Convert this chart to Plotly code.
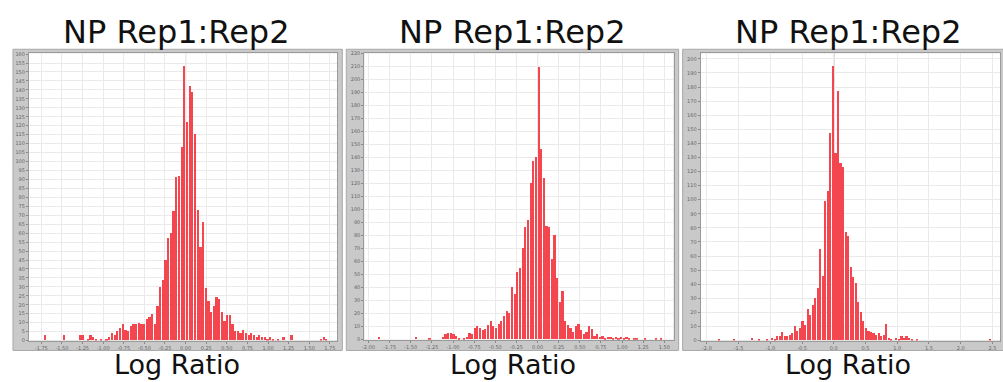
import plotly.graph_objects as go

# ---------------- data ----------------
title_text = "NP Rep1:Rep2"
xlabel_text = "Log Ratio"

# Panel 1: histogram of log ratios (bin width, index of first bin, counts)
p1_bin_width = 0.0325
p1_first_bin = -56
p1_counts = [0, 0, 0, 3, 0, 0, 0, 0, 0, 0, 3, 0, 0, 0, 0, 0,
             3, 3, 0, 1, 3, 2, 1, 0, 1, 0, 1, 2, 4, 3, 5, 7, 9, 6, 5, 8, 9, 9, 10, 9, 9,
             12, 13, 15, 9, 19, 30, 34, 45, 57, 60, 72, 91, 92, 108, 153,
             122, 142, 139, 115, 73, 52, 66, 29, 22, 16, 19, 24, 23, 16, 11,
             14, 14, 9, 5, 5, 4, 6, 4, 3, 4, 3, 2, 3, 2, 2, 1, 2, 1, 0, 1,
             0, 2, 0, 0, 3, 0, 0, 0, 0, 0, 0, 0, 0, 0, 0, 1, 2, 1, 0, 0, 0]
p1_xticks = [-1.75, -1.5, -1.25, -1.0, -0.75, -0.5, -0.25, 0.0, 0.25, 0.5, 0.75, 1.0, 1.25, 1.5, 1.75]
p1_yticks = list(range(0, 161, 5))

# Panel 2
p2_bin_width = 0.0315
p2_first_bin = -65
p2_counts = [0, 0, 0, 0, 0, 2, 0, 0, 0, 0, 0, 0, 0, 0, 0, 0, 0, 0, 0,
             2, 0, 0, 0, 0, 1, 0, 0, 0, 0,
             2, 4, 5, 5, 4, 3, 1, 0, 1, 2, 5, 4, 9, 10, 9, 7, 8, 11, 14, 10, 9, 12, 14,
             18, 22, 20, 40, 35, 52, 55, 70, 86, 92, 120, 137, 140,
             209, 146, 124, 87, 86, 62, 80, 47, 29, 37, 14, 11, 9, 6, 10, 12, 7, 4, 6,
             10, 8, 3, 4, 2, 3, 1, 2, 2, 1, 2, 1, 2, 1, 2, 1, 0, 1, 1, 0, 0, 1,
             0, 0, 0, 1, 0, 1, 0, 0, 0, 0]
p2_xticks = [-2.0, -1.75, -1.5, -1.25, -1.0, -0.75, -0.5, -0.25, 0.0, 0.25, 0.5, 0.75, 1.0, 1.25, 1.5]
p2_yticks = list(range(0, 221, 10))

# Panel 3
p3_bin_width = 0.04
p3_first_bin = -53
p3_counts = [0, 0, 0, 0, 0, 0, 0, 1, 0, 0, 0, 0, 0, 1, 0, 0, 0, 0, 0, 0,
             2, 0, 0, 1, 0, 0, 1, 0, 2, 1, 3, 3, 6, 3, 3, 4, 5, 10, 7, 9, 14, 11,
             22, 18, 25, 30, 37, 65, 46, 99, 106, 147, 195,
             133, 177, 126, 123, 77, 74, 52, 45, 41, 27, 20, 14, 9, 7, 6, 5, 4, 5,
             3, 4, 12, 2, 1, 0, 2, 1, 3, 2, 3, 2, 1, 0, 1,
             0, 0, 0, 0, 0, 0, 0, 0, 0, 0, 0, 0, 0, 0, 0, 0, 0, 0, 0, 0, 0, 0, 0, 0,
             0, 0, 0, 0, 1, 0, 0, 0]
p3_xticks = [-2.0, -1.5, -1.0, -0.5, 0.0, 0.5, 1.0, 1.5, 2.0, 2.5]
p3_yticks = list(range(0, 201, 10))

# ---------------- layout helpers ----------------
W, H = 1003, 382
BAR_COLOR = "#f4464f"
GRID = "#eaeaea"
TICKFONT = dict(family="DejaVu Sans", size=5, color="#666666")


def px_x(p):
    return p / W


def px_y(p):
    return 1 - p / H


panels = [
    dict(counts=p1_counts, w=p1_bin_width, k0=p1_first_bin, xticks=p1_xticks, yticks=p1_yticks,
         xfmt="{:.2f}", xrange=[-1.9, 1.84], yrange=[0, 160.5],
         plot=(27, 336, 51, 343), frame=(11, 341, 47, 353), cx=175),
    dict(counts=p2_counts, w=p2_bin_width, k0=p2_first_bin, xticks=p2_xticks, yticks=p2_yticks,
         xfmt="{:.2f}", xrange=[-2.05, 1.61], yrange=[0, 220],
         plot=(363, 673, 51, 342), frame=(345, 678, 47, 353), cx=512),
    dict(counts=p3_counts, w=p3_bin_width, k0=p3_first_bin, xticks=p3_xticks, yticks=p3_yticks,
         xfmt="{:.1f}", xrange=[-2.1, 2.62], yrange=[0, 204],
         plot=(700, 1000, 51, 343), frame=(682, 1006, 47, 353), cx=848),
]

fig = go.Figure()
shapes = []
annotations = []
layout_axes = {}

for i, p in enumerate(panels, start=1):
    xa = "x" if i == 1 else f"x{i}"
    ya = "y" if i == 1 else f"y{i}"
    centers = [(p["k0"] + j + 0.5) * p["w"] for j in range(len(p["counts"]))]
    fig.add_trace(go.Bar(
        x=centers, y=p["counts"], width=p["w"] * 0.84,
        marker=dict(color=BAR_COLOR, line=dict(width=0)),
        xaxis=xa, yaxis=ya, showlegend=False, hoverinfo="x+y",
    ))
    x0, x1, y0, y1 = p["plot"]
    fx0, fx1, fy0, fy1 = p["frame"]
    shapes.append(dict(type="rect", xref="paper", yref="paper", layer="below",
                       x0=px_x(fx0), x1=px_x(fx1), y0=px_y(fy1), y1=px_y(fy0),
                       fillcolor="#c9c9c9", line=dict(color="#a9a9a9", width=1)))
    shapes.append(dict(type="rect", xref="paper", yref="paper", layer="below",
                       x0=px_x(x0), x1=px_x(x1), y0=px_y(y1), y1=px_y(y0),
                       fillcolor="white", line=dict(width=0)))
    shapes.append(dict(type="line", xref=xa, yref=f"{ya} domain", layer="below",
                       x0=0, x1=0, y0=0, y1=1, line=dict(color="#9a9a9a", width=1)))
    xkey = "xaxis" if i == 1 else f"xaxis{i}"
    ykey = "yaxis" if i == 1 else f"yaxis{i}"
    layout_axes[xkey] = dict(
        domain=[px_x(x0), px_x(x1)], range=p["xrange"], anchor=ya,
        tickvals=p["xticks"], ticktext=[p["xfmt"].format(v) for v in p["xticks"]],
        showgrid=True, gridcolor=GRID, gridwidth=1, zeroline=False,
        showline=True, linecolor="#9a9a9a", mirror=True,
        ticks="outside", ticklen=2, tickcolor="#888888", tickfont=TICKFONT,
        fixedrange=True,
    )
    layout_axes[ykey] = dict(
        domain=[px_y(y1), px_y(y0)], range=p["yrange"], anchor=xa,
        tickvals=p["yticks"], showgrid=True, gridcolor=GRID, gridwidth=1, zeroline=False,
        showline=True, linecolor="#9a9a9a", mirror=True,
        ticks="outside", ticklen=2, tickcolor="#888888", tickfont=TICKFONT,
        fixedrange=True,
    )
    annotations.append(dict(text=title_text, xref="paper", yref="paper",
                            x=px_x(p["cx"]), y=px_y(29), xanchor="center", yanchor="middle",
                            showarrow=False, font=dict(family="DejaVu Sans", size=32, color="#111111")))
    annotations.append(dict(text=xlabel_text, xref="paper", yref="paper",
                            x=px_x(p["cx"]), y=px_y(367), xanchor="center", yanchor="middle",
                            showarrow=False, font=dict(family="DejaVu Sans", size=27, color="#111111")))

fig.update_layout(
    width=W, height=H, margin=dict(l=0, r=0, t=0, b=0),
    paper_bgcolor="white", plot_bgcolor="rgba(0,0,0,0)",
    shapes=shapes, annotations=annotations, bargap=0,
    **layout_axes,
)

fig.write_html("out.html", config={"displayModeBar": False},
               post_script="document.body.style.margin='0';document.body.style.overflow='hidden';")
